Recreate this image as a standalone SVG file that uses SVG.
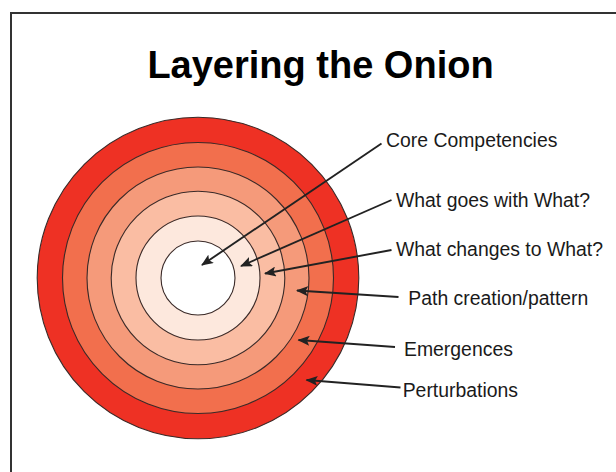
<svg xmlns="http://www.w3.org/2000/svg" width="616" height="472" viewBox="0 0 616 472">
<defs>
<style>
.ring{stroke:#3a2a28;stroke-width:1.1}
.lbl{font-family:"Liberation Sans",Arial,sans-serif;font-size:19.4px;fill:#1a1a1a}
.title{font-family:"Liberation Sans",Arial,sans-serif;font-size:38px;font-weight:bold;fill:#000}
.conn{stroke:#222;stroke-width:1.9;fill:none;marker-end:url(#ah)}
</style>
<marker id="ah" viewBox="0 0 12 10" refX="11" refY="5" markerWidth="12" markerHeight="10" markerUnits="userSpaceOnUse" orient="auto">
<path d="M0,0 L12,5 L0,10 L2.5,5 Z" fill="#222"/>
</marker>
</defs>
<rect x="0" y="0" width="616" height="472" fill="#fff"/>
<rect x="11" y="13" width="700" height="600" fill="none" stroke="#333" stroke-width="2"/>
<text class="title" x="320.5" y="78" text-anchor="middle">Layering the Onion</text>
<g id="onion">
<circle id="ring-perturbations" class="ring" cx="198" cy="278" r="160.8" fill="#EE3124"/>
<circle id="ring-emergences" class="ring" cx="198" cy="278" r="135.5" fill="#F26F4D"/>
<circle id="ring-path" class="ring" cx="198" cy="278" r="111" fill="#F59A7A"/>
<circle id="ring-changes" class="ring" cx="198" cy="278" r="86.8" fill="#FABDA3"/>
<circle id="ring-goes" class="ring" cx="198" cy="278" r="62" fill="#FDE8DD"/>
<circle id="ring-core" class="ring" cx="198" cy="278" r="37" fill="#FFFFFF"/>
</g>
<g id="connectors">
<line class="conn" x1="381.5" y1="143.5" x2="202" y2="265"/>
<line class="conn" x1="391.5" y1="200" x2="241" y2="266"/>
<line class="conn" x1="391.5" y1="250" x2="265" y2="273.5"/>
<line class="conn" x1="398.5" y1="297" x2="297" y2="290.5"/>
<line class="conn" x1="395" y1="347" x2="298.5" y2="340"/>
<line class="conn" x1="400.5" y1="387.5" x2="306.5" y2="380"/>
</g>
<g id="label-core"><text class="lbl" x="386" y="147.3">Core Competencies</text></g>
<g id="label-goes"><text class="lbl" x="396" y="207.3">What goes with What?</text></g>
<g id="label-changes"><text class="lbl" x="396" y="255.5">What changes to What?</text></g>
<g id="label-path"><text class="lbl" x="408.3" y="305">Path creation/pattern</text></g>
<g id="label-emergences"><text class="lbl" x="404" y="356">Emergences</text></g>
<g id="label-perturbations"><text class="lbl" x="402.7" y="396.7">Perturbations</text></g>
</svg>
